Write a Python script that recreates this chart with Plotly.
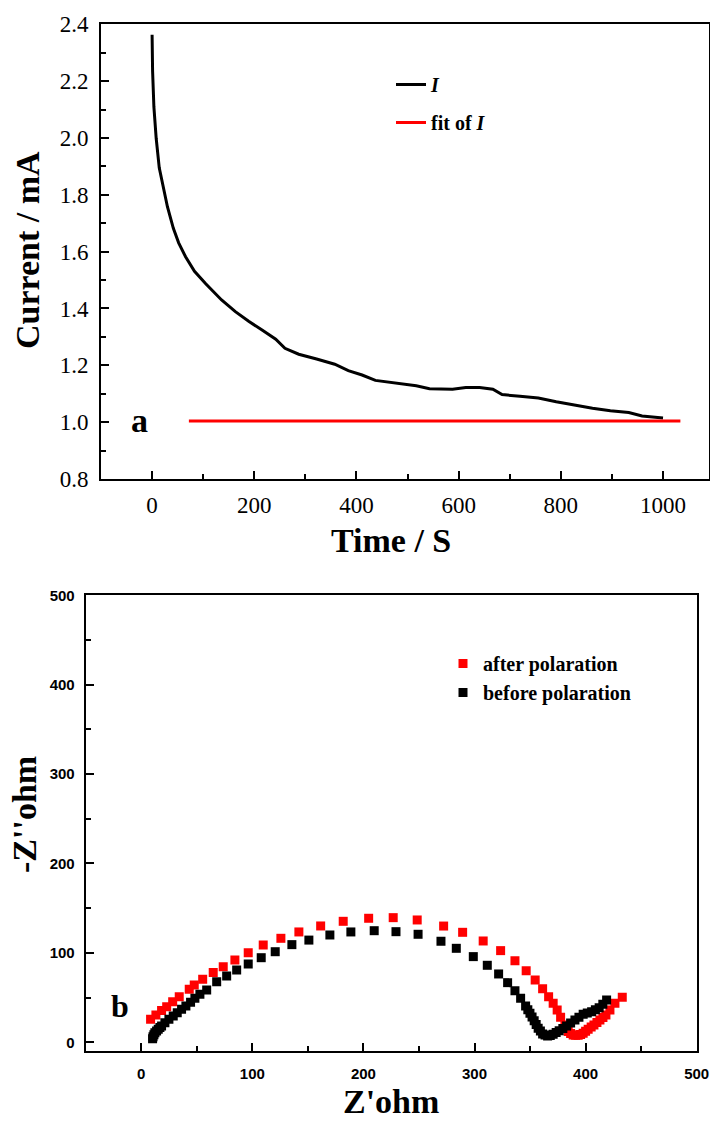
import plotly.graph_objects as go

# ---------------- data: panel a (chronoamperometry) ----------------
time_s = [0, 1, 3.5, 8, 14, 21, 30, 41.6, 52, 65.5, 83, 105, 136, 163, 189, 216, 242, 260,
          287, 322, 357.5, 384, 411, 437, 473, 517, 543, 588, 614, 641, 667, 685, 720, 756,
          791, 827, 862, 897, 933, 959, 1000]
current_mA = [2.363, 2.235, 2.11, 1.999, 1.895, 1.833, 1.758, 1.682, 1.631, 1.582, 1.531,
              1.487, 1.43, 1.389, 1.355, 1.323, 1.292, 1.26, 1.239, 1.222, 1.204, 1.181,
              1.166, 1.147, 1.138, 1.128, 1.118, 1.116, 1.122, 1.122, 1.116, 1.097, 1.091,
              1.085, 1.072, 1.059, 1.049, 1.04, 1.034, 1.022, 1.015]
fit_time_s = [72, 1034]
fit_current_mA = [1.004, 1.004]

# ---------------- data: panel b (Nyquist) ----------------
after_zre = [8.4, 13.2, 18.3, 22.9, 28.3, 34.2, 43.2, 47.7, 55.3, 64.8, 73.8, 84.3, 96.3,
             109.8, 125.7, 141.9, 161.5, 181.8, 204.7, 226.8, 248.4, 272.2, 289.3, 307.8,
             323.5, 336.4, 346.5, 354.6, 361.3, 366.7, 370.8, 374.4, 377.5, 381.4, 384.3,
             386.5, 388.8, 391.0, 393.3, 395.5, 397.8, 400.0, 402.3, 405.0, 407.5, 410.2,
             412.9, 415.6, 418.3, 421.9, 426.4, 433.0]
after_zim = [25.7, 30.5, 35.4, 39.8, 45.4, 51.0, 59.3, 64.1, 70.5, 77.9, 84.6, 92.1, 100.2,
             108.8, 116.3, 123.4, 130.1, 135.3, 138.7, 139.4, 136.8, 130.0, 123.0, 113.3,
             102.5, 91.3, 80.1, 69.7, 60.0, 51.0, 43.6, 36.1, 28.0, 19.4, 11.9, 9.8, 8.2,
             7.8, 7.8, 8.8, 10.1, 12.2, 14.5, 17.0, 19.4, 22.2, 24.9, 27.7, 30.5, 36.1,
             43.6, 50.3]
before_zre = [10.2, 10.6, 11.4, 12.3, 13.8, 15.3, 16.8, 18.3, 21.3, 24.9, 28.8, 32.4, 36.3,
              40.2, 44.4, 48.3, 52.8, 58.9, 67.9, 76.9, 85.9, 96.3, 108.0, 120.6, 135.6,
              150.9, 169.8, 188.7, 209.7, 229.3, 249.2, 269.8, 283.6, 298.9, 311.5, 321.7,
              329.8, 336.4, 341.5, 346.0, 348.0, 349.9, 351.8, 353.7, 355.5, 357.3, 359.3,
              361.3, 363.5, 365.8, 368.2, 370.8, 373.5, 376.2, 379.5, 382.9, 386.5, 390.4,
              394.0, 397.8, 401.5, 405.4, 408.8, 412.2, 415.5, 418.9]
before_zim = [3.9, 6.3, 8.5, 10.7, 12.6, 14.5, 16.4, 18.2, 21.9, 25.7, 29.4, 33.1, 36.9,
              40.6, 44.7, 49.2, 53.7, 58.5, 67.8, 74.2, 80.9, 87.6, 94.6, 101.3, 109.2,
              114.3, 120.0, 123.4, 124.8, 123.7, 120.8, 113.0, 105.1, 95.8, 86.1, 76.4,
              66.7, 57.7, 49.2, 40.6, 36.5, 32.4, 28.3, 24.2, 20.0, 15.7, 12.5, 9.3, 8.0,
              7.0, 7.6, 8.9, 10.8, 13.0, 15.5, 18.2, 21.5, 24.9, 28.0, 31.3, 32.8, 34.2,
              36.4, 38.7, 42.5, 47.3]

# ---------------- layout helpers (pixel geometry) ----------------
W, H = 710, 1124


def px_x(x):
    return x / W


def px_y(y):
    return 1 - y / H


SERIF = "Liberation Serif"
SANS = "Liberation Sans"

fig = go.Figure()

fig.add_trace(go.Scatter(x=time_s, y=current_mA, mode="lines", name="<b><i>I</i></b>",
                         line=dict(color="black", width=3), xaxis="x", yaxis="y",
                         legend="legend", legendgroup="g1"))
fig.add_trace(go.Scatter(x=fit_time_s, y=fit_current_mA, mode="lines", name="<b>fit of <i>I</i></b>",
                         line=dict(color="#ff0000", width=3), xaxis="x", yaxis="y",
                         legend="legend", legendgroup="g2"))

fig.add_trace(go.Scatter(x=after_zre, y=after_zim, mode="markers", name="<b>after polaration</b>",
                         marker=dict(symbol="square", size=9, color="#ff0000"),
                         xaxis="x2", yaxis="y2", legend="legend2"))
fig.add_trace(go.Scatter(x=before_zre, y=before_zim, mode="markers", name="<b>before polaration</b>",
                         marker=dict(symbol="square", size=9, color="black"),
                         xaxis="x2", yaxis="y2", legend="legend2"))

axis_common = dict(showline=True, linecolor="black", linewidth=2, mirror=True,
                   ticks="inside", ticklen=8, tickwidth=2, tickcolor="black",
                   showgrid=False, zeroline=False, automargin=False)

fig.update_layout(
    template="none",
    width=W, height=H,
    margin=dict(l=0, r=0, t=0, b=0, pad=0, autoexpand=False),
    paper_bgcolor="white", plot_bgcolor="white",
    xaxis=dict(axis_common, domain=[px_x(101), px_x(709)], range=[-100, 1090],
               dtick=200, tick0=0, anchor="y",
               minor=dict(dtick=100, tick0=0, ticks="inside", ticklen=5, tickwidth=2, tickcolor="black"),
               tickfont=dict(family=SERIF, size=23, color="black"), ticklabelstandoff=4),
    yaxis=dict(axis_common, domain=[px_y(479), px_y(24.3)], range=[0.8, 2.4],
               dtick=0.2, tick0=0, tickformat=".1f", anchor="x",
               minor=dict(dtick=0.1, tick0=0, ticks="inside", ticklen=5, tickwidth=2, tickcolor="black"),
               tickfont=dict(family=SERIF, size=23, color="black"), ticklabelstandoff=6),
    xaxis2=dict(axis_common, domain=[px_x(85.7), px_x(696.7)], range=[-50, 500],
                dtick=100, tick0=0, anchor="y2",
                minor=dict(dtick=50, tick0=0, ticks="inside", ticklen=5, tickwidth=2, tickcolor="black"),
                tickfont=dict(family=SANS, size=15, color="black", weight="bold"), ticklabelstandoff=8),
    yaxis2=dict(axis_common, domain=[px_y(1051.2), px_y(595.3)], range=[-10, 500],
                dtick=100, tick0=0, anchor="x2",
                minor=dict(dtick=50, tick0=0, ticks="inside", ticklen=5, tickwidth=2, tickcolor="black"),
                tickfont=dict(family=SANS, size=15, color="black", weight="bold"), ticklabelstandoff=6),
    legend=dict(x=px_x(391), y=px_y(65), xanchor="left", yanchor="top",
                font=dict(family=SERIF, size=20, color="black"),
                bgcolor="rgba(0,0,0,0)", borderwidth=0, tracegroupgap=9, traceorder="grouped"),
    legend2=dict(x=px_x(443), y=px_y(644), xanchor="left", yanchor="top",
                 font=dict(family=SERIF, size=20, color="black"),
                 bgcolor="rgba(0,0,0,0)", borderwidth=0, tracegroupgap=0),
    showlegend=True,
)

ann_font_big = dict(family=SERIF, size=34, color="black")
fig.add_annotation(text="<b>Current / mA</b>", x=px_x(27), y=px_y(250), xref="paper", yref="paper",
                   showarrow=False, textangle=-90, font=ann_font_big, xanchor="center", yanchor="middle")
fig.add_annotation(text="<b>Time / S</b>", x=px_x(391), y=px_y(540), xref="paper", yref="paper",
                   showarrow=False, font=ann_font_big, xanchor="center", yanchor="middle")
fig.add_annotation(text="<b>-Z''ohm</b>", x=px_x(24), y=px_y(815), xref="paper", yref="paper",
                   showarrow=False, textangle=-90, font=ann_font_big, xanchor="center", yanchor="middle")
fig.add_annotation(text="<b>Z'ohm</b>", x=px_x(391), y=px_y(1101), xref="paper", yref="paper",
                   showarrow=False, font=ann_font_big, xanchor="center", yanchor="middle")
fig.add_annotation(text="<b>a</b>", x=px_x(139), y=px_y(420), xref="paper", yref="paper",
                   showarrow=False, font=dict(family=SERIF, size=34, color="black"),
                   xanchor="center", yanchor="middle")
fig.add_annotation(text="<b>b</b>", x=px_x(120), y=px_y(1006), xref="paper", yref="paper",
                   showarrow=False, font=dict(family=SERIF, size=32, color="black"),
                   xanchor="center", yanchor="middle")

fig.write_html("out.html")
